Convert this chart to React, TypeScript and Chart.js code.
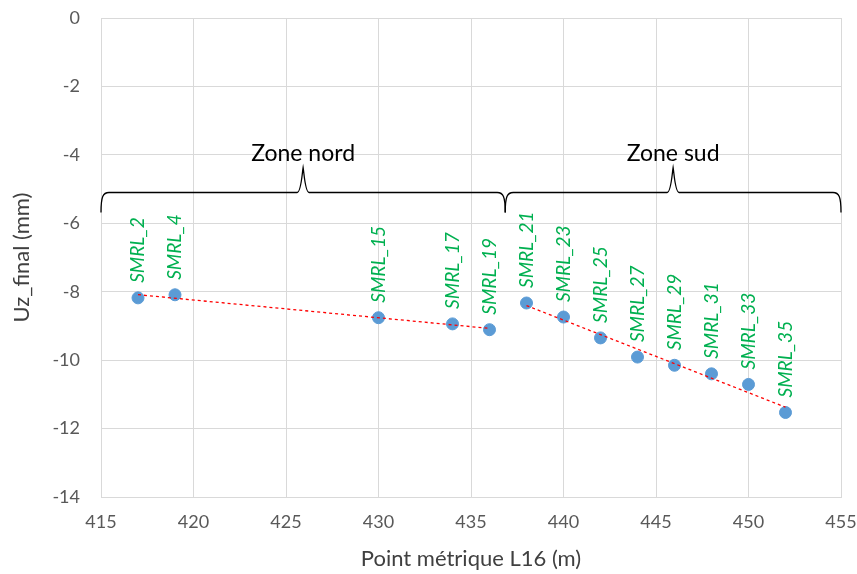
import React, { useEffect, useRef } from "react";
import { Chart, registerables } from "chart.js";

Chart.register(...registerables);

const pointLabels = ["SMRL_2", "SMRL_4", "SMRL_15", "SMRL_17", "SMRL_19", "SMRL_21", "SMRL_23", "SMRL_25", "SMRL_27", "SMRL_29", "SMRL_31", "SMRL_33", "SMRL_35"];
const pmValues = [417, 419, 430, 434, 436, 438, 440, 442, 444, 446, 448, 450, 452];
const uzValues = [-8.18, -8.09, -8.76, -8.94, -9.11, -8.33, -8.74, -9.35, -9.91, -10.15, -10.40, -10.71, -11.53];
// group membership for the two trend lines
const northIdx = [0, 1, 2, 3, 4];
const southIdx = [5, 6, 7, 8, 9, 10, 11, 12];

// brace annotations (data coordinates)
const zoneNames = ["Zone nord", "Zone sud"];
const zoneStart = [415, 436.85];
const zoneEnd = [436.85, 455];
const braceLevel = -5.1;

const FONT = "Lato, 'Open Sans', sans-serif";

function fit(idx: number[]) {
  const xs = idx.map((i) => pmValues[i]);
  const ys = idx.map((i) => uzValues[i]);
  const n = xs.length;
  const mx = xs.reduce((a, b) => a + b, 0) / n;
  const my = ys.reduce((a, b) => a + b, 0) / n;
  let sxy = 0, sxx = 0;
  for (let i = 0; i < n; i++) {
    sxy += (xs[i] - mx) * (ys[i] - my);
    sxx += (xs[i] - mx) * (xs[i] - mx);
  }
  const slope = sxy / sxx;
  const x0 = Math.min(...xs), x1 = Math.max(...xs);
  return [
    { x: x0, y: my + slope * (x0 - mx) },
    { x: x1, y: my + slope * (x1 - mx) },
  ];
}

const labelPlugin = {
  id: "pointLabels",
  afterDatasetsDraw(chart: any) {
    const meta = chart.getDatasetMeta(0);
    const ctx = chart.ctx;
    ctx.save();
    ctx.fillStyle = "#00B050";
    ctx.font = `italic 19px ${FONT}`;
    ctx.textAlign = "left";
    ctx.textBaseline = "middle";
    meta.data.forEach((el: any, i: number) => {
      ctx.save();
      ctx.translate(el.x, el.y - 15);
      ctx.rotate(-Math.PI / 2);
      ctx.fillText(pointLabels[i], 0, 0);
      ctx.restore();
    });
    ctx.restore();
  },
};

const bracePlugin = {
  id: "braces",
  afterDraw(chart: any) {
    const xs = chart.scales.x;
    const ys = chart.scales.y;
    const ctx = chart.ctx;
    const yLine = ys.getPixelForValue(braceLevel);
    ctx.save();
    ctx.strokeStyle = "#000000";
    ctx.lineWidth = 1.3;
    zoneNames.forEach((name, i) => {
      const a = xs.getPixelForValue(zoneStart[i]);
      const b = xs.getPixelForValue(zoneEnd[i]);
      const m = (a + b) / 2;
      const drop = 20;
      const rise = 25;
      ctx.beginPath();
      ctx.moveTo(a, yLine + drop);
      ctx.bezierCurveTo(a, yLine + 4, a + 2, yLine, a + 8, yLine);
      ctx.lineTo(m - 6, yLine);
      ctx.bezierCurveTo(m - 2, yLine, m - 1, yLine - rise + 6, m, yLine - rise);
      ctx.bezierCurveTo(m + 1, yLine - rise + 6, m + 2, yLine, m + 6, yLine);
      ctx.lineTo(b - 8, yLine);
      ctx.bezierCurveTo(b - 2, yLine, b, yLine + 4, b, yLine + drop);
      ctx.stroke();
      ctx.fillStyle = "#000000";
      ctx.font = `23px ${FONT}`;
      ctx.textAlign = "center";
      ctx.textBaseline = "middle";
      ctx.fillText(name, m, yLine - rise - 14);
    });
    ctx.restore();
  },
};

export default function App() {
  const ref = useRef<HTMLCanvasElement>(null);
  useEffect(() => {
    if (!ref.current) return;
    const pts = pmValues.map((x, i) => ({ x, y: uzValues[i] }));
    const chart = new Chart(ref.current, {
      type: "scatter",
      data: {
        datasets: [
          {
            label: "Uz_final",
            data: pts,
            backgroundColor: "#5B9BD5",
            borderColor: "#5B9BD5",
            pointRadius: 6,
            pointHoverRadius: 6,
            order: 2,
          },
          {
            label: "trend nord",
            data: fit(northIdx),
            showLine: true,
            borderColor: "#FF0000",
            borderWidth: 1.3,
            borderDash: [3, 3],
            pointRadius: 0,
            order: 1,
          },
          {
            label: "trend sud",
            data: fit(southIdx),
            showLine: true,
            borderColor: "#FF0000",
            borderWidth: 1.3,
            borderDash: [3, 3],
            pointRadius: 0,
            order: 1,
          },
        ],
      },
      options: {
        responsive: false,
        animation: false,
        layout: { padding: 0 },
        plugins: { legend: { display: false }, tooltip: { enabled: false } },
        scales: {
          x: {
            type: "linear",
            min: 415,
            max: 455,
            ticks: { stepSize: 5, color: "#595959", font: { family: FONT, size: 18 }, padding: 14 },
            grid: { color: "#D9D9D9", drawTicks: false },
            border: { color: "#D9D9D9" },
            title: { display: true, text: "Point métrique L16 (m)", color: "#404040", font: { family: FONT, size: 22 }, padding: { top: 0, bottom: 2 } },
            afterFit: (s: any) => {
              s.height = 77;
              s.paddingLeft = 0;
              s.paddingRight = 16;
            },
          },
          y: {
            type: "linear",
            min: -14,
            max: 0,
            ticks: { stepSize: 2, color: "#595959", font: { family: FONT, size: 18 }, padding: 21 },
            grid: { color: "#D9D9D9", drawTicks: false },
            border: { color: "#D9D9D9" },
            title: { display: true, text: "Uz_final (mm)", color: "#404040", font: { family: FONT, size: 22 }, padding: { top: 9, bottom: 0 } },
            afterFit: (s: any) => {
              s.width = 101;
              s.paddingTop = 18;
              s.paddingBottom = 0;
            },
          },
        },
      },
      plugins: [labelPlugin, bracePlugin],
    });
    return () => chart.destroy();
  }, []);
  return (
    <div style={{ position: "fixed", left: 0, top: 0, width: 857, height: 574, background: "#fff" }}>
      <canvas ref={ref} width={857} height={574} />
    </div>
  );
}
